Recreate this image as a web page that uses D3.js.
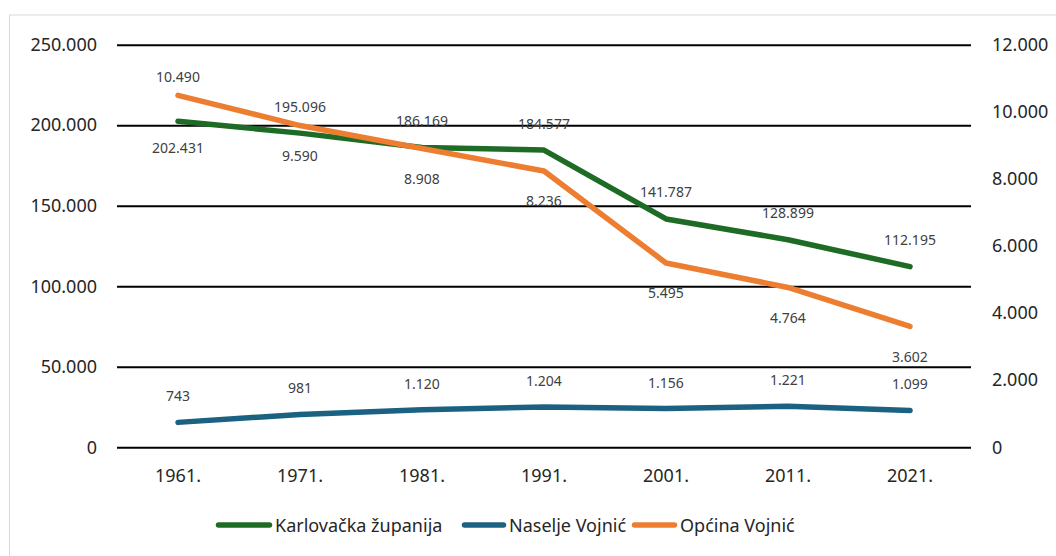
<!DOCTYPE html>
<html>
<head>
<meta charset="utf-8">
<script src="https://cdn.jsdelivr.net/npm/d3@7"></script>
<style>
  html, body { margin: 0; padding: 0; background: #fff; }
  svg { display: block; }
  text { font-family: "Noto Sans", "Open Sans", sans-serif; }
</style>
</head>
<body>
<svg id="chart" width="1056" height="556"></svg>
<script>
// ---- Data ----
const years = ["1961.", "1971.", "1981.", "1991.", "2001.", "2011.", "2021."];
const karlovacka = [202431, 195096, 186169, 184577, 141787, 128899, 112195]; // left axis
const naselje = [743, 981, 1120, 1204, 1156, 1221, 1099];                    // right axis
const opcina = [10490, 9590, 8908, 8236, 5495, 4764, 3602];                  // right axis
const leftTicks = [0, 50000, 100000, 150000, 200000, 250000];
const rightTicks = [0, 2000, 4000, 6000, 8000, 10000, 12000];
const seriesNames = ["Karlovačka županija", "Naselje Vojnić", "Općina Vojnić"];

// ---- Layout ----
const W = 1056, H = 556;
const plot = { left: 117, right: 971, top: 44.7, bottom: 447.3 };
const colors = { k: "#1e6b25", n: "#1b6182", o: "#ed7d31" };

const svg = d3.select("#chart");
const fmt = v => d3.format(",")(v).replace(/,/g, ".");

// chart border (partially visible)
svg.append("rect")
  .attr("x", 9.5).attr("y", 15).attr("width", 1100).attr("height", 600)
  .attr("fill", "none").attr("stroke", "#d9d9d9").attr("stroke-width", 1);

const x = d3.scaleBand().domain(years).range([plot.left, plot.right]).padding(0);
const yL = d3.scaleLinear().domain([0, 250000]).range([plot.bottom, plot.top]);
const yR = d3.scaleLinear().domain([0, 12000]).range([plot.bottom, plot.top]);
const cx = d => x(d) + x.bandwidth() / 2;

// gridlines + left axis
const leftAxis = d3.axisLeft(yL).tickValues(leftTicks).tickFormat(fmt)
  .tickSize(-(plot.right - plot.left)).tickPadding(20);
const gL = svg.append("g").attr("transform", `translate(${plot.left},0)`).call(leftAxis);
gL.select(".domain").remove();
gL.selectAll(".tick line").attr("stroke", "#000").attr("stroke-width", 2);
gL.selectAll(".tick text").attr("fill", "#262626").style("font-size", "18px")
  .attr("x", -20);

// right axis (labels only)
const rightAxis = d3.axisRight(yR).tickValues(rightTicks).tickFormat(fmt)
  .tickSize(0).tickPadding(21);
const gR = svg.append("g").attr("transform", `translate(${plot.right},0)`).call(rightAxis);
gR.select(".domain").remove();
gR.selectAll(".tick text").attr("fill", "#262626").style("font-size", "18px");

// x axis labels
const xAxis = d3.axisBottom(x).tickSize(0).tickPadding(22);
const gX = svg.append("g").attr("transform", `translate(0,${plot.bottom})`).call(xAxis);
gX.select(".domain").remove();
gX.selectAll(".tick text").attr("fill", "#262626").style("font-size", "18px");

// series
const series = [
  { key: "k", values: karlovacka, y: yL, above: -27, below: 26,
    pos: ["below","above","above","above","above","above","above"] },
  { key: "n", values: naselje, y: yR, above: -26.5, below: 28,
    pos: ["above","above","above","above","above","above","above"] },
  { key: "o", values: opcina, y: yR, above: -18.5, below: 30,
    pos: ["above","below","below","below","below","below","below"] },
];

const drawOrder = [series[1], series[0], series[2]];
drawOrder.forEach(s => {
  const line = d3.line().x((d, i) => cx(years[i])).y(d => s.y(d));
  svg.append("path").datum(s.values)
    .attr("d", line).attr("fill", "none")
    .attr("stroke", colors[s.key]).attr("stroke-width", 5.5)
    .attr("stroke-linecap", "round").attr("stroke-linejoin", "round");
});

series.forEach(s => {
  svg.append("g").selectAll("text").data(s.values).join("text")
    .attr("x", (d, i) => cx(years[i]))
    .attr("y", (d, i) => s.y(d) + (s.pos[i] === "above" ? s.above : s.below))
    .attr("text-anchor", "middle").attr("dominant-baseline", "central")
    .attr("fill", "#404040").style("font-size", "14px")
    .text(d => fmt(d));
});

// legend
const legendY = 525;
const legendItems = [
  { name: seriesNames[0], color: colors.k, x0: 216, x1: 272 },
  { name: seriesNames[1], color: colors.n, x0: 462, x1: 506 },
  { name: seriesNames[2], color: colors.o, x0: 632, x1: 677 },
];
const lg = svg.append("g");
legendItems.forEach(it => {
  lg.append("line").attr("x1", it.x0 + 2.5).attr("x2", it.x1 - 2.5)
    .attr("y1", legendY).attr("y2", legendY)
    .attr("stroke", it.color).attr("stroke-width", 5.5).attr("stroke-linecap", "round");
  lg.append("text").attr("x", it.x1 + 3).attr("y", legendY)
    .attr("dominant-baseline", "central").attr("fill", "#262626")
    .style("font-size", "18px").text(it.name);
});
</script>
</body>
</html>
